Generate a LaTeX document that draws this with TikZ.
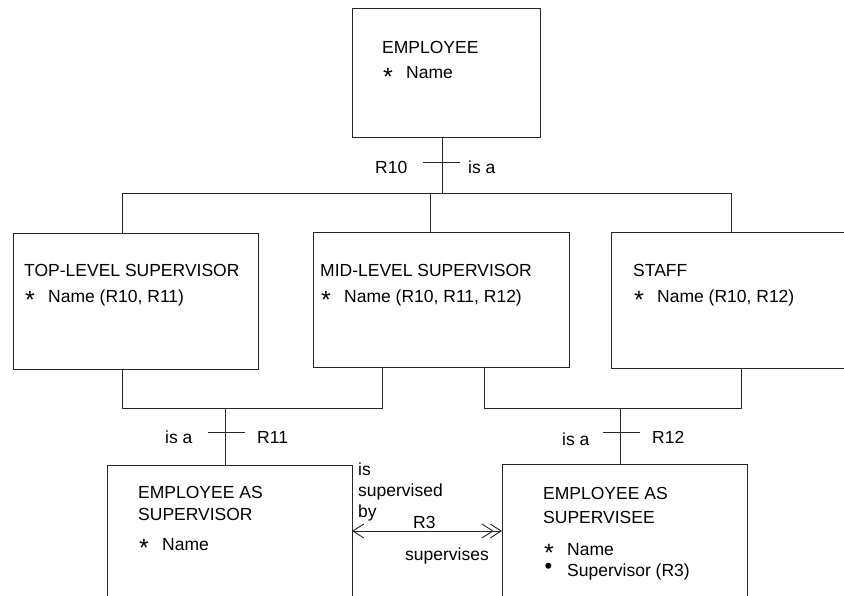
\documentclass[tikz,border=0pt]{standalone}
\usepackage{fontspec}
\setmainfont{Liberation Sans}
\usetikzlibrary{arrows.meta}

\newcommand{\atributo}[1]{\makebox[24pt][l]{\hspace{1pt}\raisebox{-6.5pt}[0pt][0pt]{\fontsize{25}{25}\selectfont *}}#1}
\newcommand{\referencia}[1]{\makebox[24pt][l]{\hspace{1.5pt}\raisebox{3pt}[0pt][0pt]{\fontsize{22}{22}\selectfont\textbullet}}#1}

\begin{document}
\begin{tikzpicture}[
    x=1pt, y=-1pt,
    entidad/.style={draw=black!85, line width=1pt, inner sep=0pt, outer sep=0pt},
    linea/.style={draw=black!85, line width=1pt},
    texto/.style={anchor=base west, inner sep=0pt, font=\fontsize{17.5}{20}\selectfont},
    punta/.tip={Straight Barb[length=11pt, width=14pt, line width=0.9pt]}
]
    \useasboundingbox (0,0) rectangle (844,596);
    \clip (0,0) rectangle (844,596);

    % --- ENTIDADES ---
    \node[entidad, minimum width=188pt, minimum height=129pt] (EMP) at (446,73.5) {};
    \node[entidad, minimum width=245pt, minimum height=135pt] (TOP) at (135.5,301.5) {};
    \node[entidad, minimum width=256pt, minimum height=134pt] (MID) at (441,300) {};
    \node[entidad, minimum width=249pt, minimum height=135pt] (STF) at (735.5,300.5) {};
    \node[entidad, minimum width=245pt, minimum height=160pt] (SUP) at (229.5,545) {};
    \node[entidad, minimum width=245pt, minimum height=160pt] (SEE) at (624.5,544) {};

    % --- TEXTOS DE LAS ENTIDADES ---
    \node[texto] (EMPt) at (382,54) {EMPLOYEE};
    \node[texto] (EMPa) at (382,79) {\atributo{Name}};

    \node[texto] (TOPt) at (24,277) {TOP-LEVEL SUPERVISOR};
    \node[texto] (TOPa) at (24,302) {\atributo{Name (R10, R11)}};

    \node[texto] (MIDt) at (320,277) {MID-LEVEL SUPERVISOR};
    \node[texto] (MIDa) at (320,302) {\atributo{Name (R10, R11, R12)}};

    \node[texto] (STFt) at (633,277) {STAFF};
    \node[texto] (STFa) at (633,302) {\atributo{Name (R10, R12)}};

    \node[texto] (SUPt) at (138,498) {EMPLOYEE AS};
    \node[texto] (SUPu) at (138,520) {SUPERVISOR};
    \node[texto] (SUPa) at (138,550) {\atributo{Name}};

    \node[texto] (SEEt) at (543,499) {EMPLOYEE AS};
    \node[texto] (SEEu) at (543,523) {SUPERVISEE};
    \node[texto] (SEEa) at (543,555) {\atributo{Name}};
    \node[texto] (SEEb) at (543,576) {\referencia{Supervisor (R3)}};

    % --- R10: EMPLOYEE -> SUBTIPOS ---
    \coordinate (R10) at (442,194);
    \coordinate (R10a) at (122,194);
    \coordinate (R10b) at (430,194);
    \coordinate (R10c) at (731,194);
    \draw[linea] (EMP.south -| R10) -- (R10);
    \draw[linea] (TOP.north -| R10a) -- (R10a) -- (R10c) -- (STF.north -| R10c);
    \draw[linea] (R10b) -- (MID.north -| R10b);
    \coordinate (T10) at (442,163);
    \draw[linea] ([xshift=-19pt]T10) -- ([xshift=18pt]T10);
    \node[texto] (R10n) at (375,174) {R10};
    \node[texto] (R10v) at (468,174) {is a};

    % --- R11: TOP + MID -> SUPERVISOR ---
    \coordinate (R11) at (225,408);
    \coordinate (R11a) at (122,408);
    \coordinate (R11b) at (382,408);
    \draw[linea] (TOP.south -| R11a) -- (R11a) -- (R11b) -- (MID.south -| R11b);
    \draw[linea] (R11) -- (SUP.north -| R11);
    \coordinate (T11) at (225,432);
    \draw[linea] ([xshift=-17pt]T11) -- ([xshift=20pt]T11);
    \node[texto] (R11v) at (165,443) {is a};
    \node[texto] (R11n) at (257,443) {R11};

    % --- R12: MID + STAFF -> SUPERVISEE ---
    \coordinate (R12) at (620,408);
    \coordinate (R12a) at (484,408);
    \coordinate (R12b) at (741,408);
    \draw[linea] (MID.south -| R12a) -- (R12a) -- (R12b) -- (STF.south -| R12b);
    \draw[linea] (R12) -- (SEE.north -| R12);
    \coordinate (T12) at (620,432);
    \draw[linea] ([xshift=-17pt]T12) -- ([xshift=20pt]T12);
    \node[texto] (R12v) at (562,445) {is a};
    \node[texto] (R12n) at (652,443) {R12};

    % --- R3: SUPERVISOR <-> SUPERVISEE ---
    \coordinate (R3) at (427,531);
    \draw[linea, {punta}-{punta[sep=-4pt] punta}] (SUP.east |- R3) -- (SEE.west |- R3);
    \node[texto] (R3a) at (358,475) {is};
    \node[texto] (R3b) at (358,496) {supervised};
    \node[texto] (R3c) at (358,517) {by};
    \node[texto] (R3n) at (413,528) {R3};
    \node[texto] (R3d) at (405,560) {supervises};
\end{tikzpicture}
\end{document}
